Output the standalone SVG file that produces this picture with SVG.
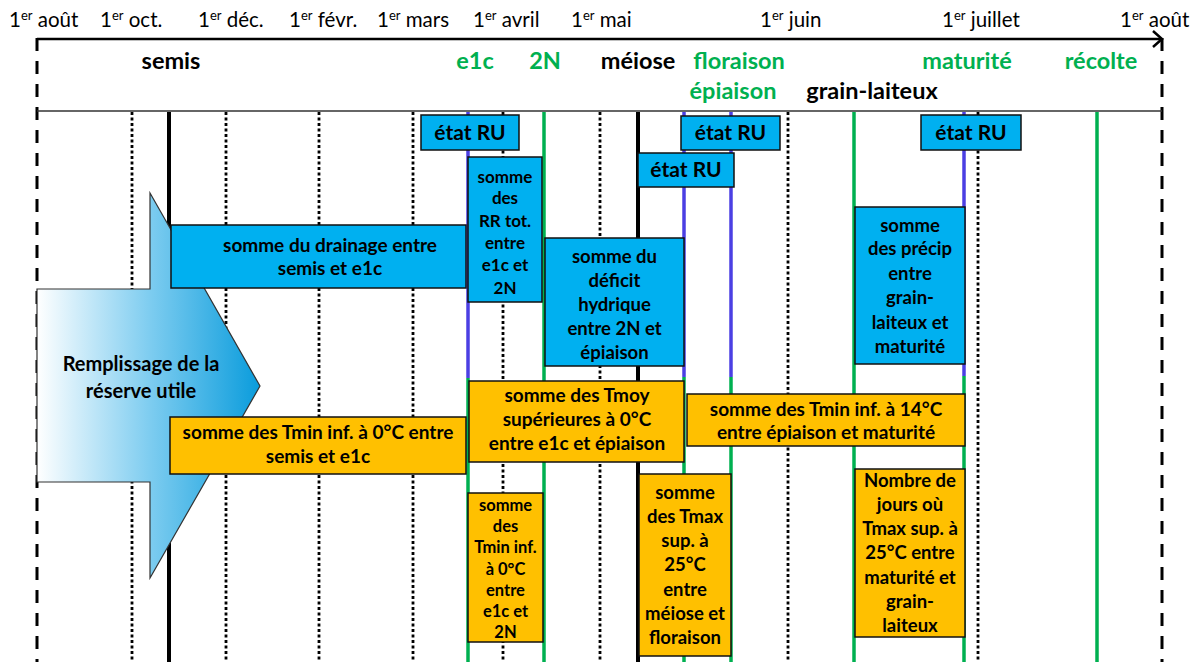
<svg xmlns="http://www.w3.org/2000/svg" width="1202" height="662" viewBox="0 0 1202 662">
<style>
text{font-family:Lato,"Liberation Sans",sans-serif;}
.m{font-size:20.5px;fill:#000;}
.sup{font-size:13px;}
.h{font-size:23.5px;font-weight:bold;text-anchor:middle;}
.g{fill:#00B050;}
.k{fill:#000;}
.t{font-weight:bold;text-anchor:middle;fill:#000;}
.dot{stroke:#000;stroke-width:2.8;stroke-dasharray:3 2.5;fill:none;}
.dash{stroke:#000;stroke-width:3;stroke-dasharray:13 10;fill:none;}
.solid{stroke:#000;stroke-width:4;fill:none;}
.gl{stroke:#00B050;stroke-width:3.5;fill:none;}
.bl{stroke:#4B3FE3;stroke-width:3.5;fill:none;}
.bbox{fill:#00B0F0;stroke:#111;stroke-width:1.5;}
.obox{fill:#FFC000;stroke:#111;stroke-width:1.5;}
</style>
<defs>
<linearGradient id="ag" x1="37" y1="0" x2="260" y2="0" gradientUnits="userSpaceOnUse">
<stop offset="0" stop-color="#FFFFFF"/>
<stop offset="0.5" stop-color="#7FCDF0"/>
<stop offset="1" stop-color="#0A9CDC"/>
</linearGradient>
</defs>
<rect width="1202" height="662" fill="#fff"/>

<g id="months">
<text class="m" x="9" y="27">1<tspan class="sup" dy="-7">er</tspan><tspan dy="7"> août</tspan></text>
<text class="m" x="100" y="27">1<tspan class="sup" dy="-7">er</tspan><tspan dy="7"> oct.</tspan></text>
<text class="m" x="198" y="27">1<tspan class="sup" dy="-7">er</tspan><tspan dy="7"> déc.</tspan></text>
<text class="m" x="289" y="27">1<tspan class="sup" dy="-7">er</tspan><tspan dy="7"> févr.</tspan></text>
<text class="m" x="377" y="27">1<tspan class="sup" dy="-7">er</tspan><tspan dy="7"> mars</tspan></text>
<text class="m" x="473" y="27">1<tspan class="sup" dy="-7">er</tspan><tspan dy="7"> avril</tspan></text>
<text class="m" x="571" y="27">1<tspan class="sup" dy="-7">er</tspan><tspan dy="7"> mai</tspan></text>
<text class="m" x="760" y="27">1<tspan class="sup" dy="-7">er</tspan><tspan dy="7"> juin</tspan></text>
<text class="m" x="942" y="27">1<tspan class="sup" dy="-7">er</tspan><tspan dy="7"> juillet</tspan></text>
<text class="m" x="1120" y="27">1<tspan class="sup" dy="-7">er</tspan><tspan dy="7"> août</tspan></text>
</g>

<g id="connectors">
<line class="dash" x1="37" y1="38" x2="37" y2="662"/>
<line class="dash" x1="1162" y1="38" x2="1162" y2="662"/>
<line x1="37" y1="111" x2="1162" y2="111" stroke="#333" stroke-width="1.5"/>
<line x1="37" y1="39" x2="1161" y2="39" stroke="#000" stroke-width="2.5"/>
<polyline points="1153,31 1162,39 1153,47" fill="none" stroke="#000" stroke-width="2.5"/>
<line class="dot" x1="132" y1="112" x2="132" y2="662"/>
<line class="dot" x1="226" y1="112" x2="226" y2="662"/>
<line class="dot" x1="319" y1="112" x2="319" y2="662"/>
<line class="dot" x1="413" y1="112" x2="413" y2="662"/>
<line class="dot" x1="503" y1="112" x2="503" y2="662"/>
<line class="dot" x1="600" y1="112" x2="600" y2="662"/>
<line class="dot" x1="788" y1="112" x2="788" y2="662"/>
<line class="dot" x1="978" y1="112" x2="978" y2="662"/>
<line class="solid" x1="169" y1="112" x2="169" y2="662"/>
<line class="solid" x1="638" y1="112" x2="638" y2="662"/>
<line class="bl" x1="468" y1="112" x2="468" y2="378"/>
<line class="gl" x1="468" y1="378" x2="468" y2="662"/>
<line class="gl" x1="544" y1="112" x2="544" y2="662"/>
<line class="bl" x1="684" y1="112" x2="684" y2="377"/>
<line class="gl" x1="684" y1="377" x2="684" y2="662"/>
<line class="bl" x1="731" y1="112" x2="731" y2="377"/>
<line class="gl" x1="731" y1="377" x2="731" y2="662"/>
<line class="gl" x1="854" y1="112" x2="854" y2="662"/>
<line class="bl" x1="964" y1="112" x2="964" y2="376"/>
<line class="gl" x1="964" y1="376" x2="964" y2="662"/>
<line class="gl" x1="1097" y1="112" x2="1097" y2="662"/>
</g>

<g id="stages">
<text class="h k" x="171" y="69">semis</text>
<text class="h g" x="475" y="69">e1c</text>
<text class="h g" x="545" y="69">2N</text>
<text class="h k" x="638" y="69">méiose</text>
<text class="h g" x="739" y="69">floraison</text>
<text class="h g" x="967" y="69">maturité</text>
<text class="h g" x="1101" y="69">récolte</text>
<text class="h g" x="733" y="99">épiaison</text>
<text class="h k" x="872" y="99">grain-laiteux</text>
</g>

<g id="remplissage">
<path d="M37,289 L150,289 L150,193 L260,386 L150,578 L150,482 L37,482 Z" fill="url(#ag)" stroke="#333" stroke-width="1.2"/>
<text class="t" x="141" y="371" font-size="20" fill="#1a1a1a">Remplissage de la</text>
<text class="t" x="141" y="398" font-size="20" fill="#1a1a1a">réserve utile</text>
</g>

<g id="etatRU1">
<rect class="bbox" x="421" y="115" width="98" height="35"/>
<text class="t" x="470" y="140" font-size="21">état RU</text>
</g>
<g id="etatRU2">
<rect class="bbox" x="681" y="116" width="99" height="34"/>
<text class="t" x="730.5" y="140" font-size="21">état RU</text>
</g>
<g id="etatRU3">
<rect class="bbox" x="638" y="153" width="96" height="34"/>
<text class="t" x="686" y="177" font-size="21">état RU</text>
</g>
<g id="etatRU4">
<rect class="bbox" x="921" y="115" width="100" height="35"/>
<text class="t" x="971" y="140" font-size="21">état RU</text>
</g>

<g id="rrtot">
<rect class="bbox" x="468" y="157" width="74" height="145" stroke-width="2"/>
<text class="t" font-size="17"><tspan x="505" y="183">somme</tspan><tspan x="505" y="204">des</tspan><tspan x="505" y="227">RR tot.</tspan><tspan x="505" y="249">entre</tspan><tspan x="505" y="271">e1c et</tspan><tspan x="505" y="294">2N</tspan></text>
</g>

<g id="deficit">
<rect class="bbox" x="545" y="238" width="139" height="128"/>
<text class="t" font-size="18.5"><tspan x="614.5" y="263">somme du</tspan><tspan x="614.5" y="287">déficit</tspan><tspan x="614.5" y="311">hydrique</tspan><tspan x="614.5" y="335">entre 2N et</tspan><tspan x="614.5" y="359">épiaison</tspan></text>
</g>

<g id="drainage">
<rect class="bbox" x="171" y="225" width="295" height="63"/>
<text class="t" font-size="19"><tspan x="330" y="252">somme du drainage entre</tspan><tspan x="330" y="275">semis et e1c</tspan></text>
</g>

<g id="precip">
<rect class="bbox" x="855" y="207" width="110" height="157"/>
<text class="t" font-size="18.5"><tspan x="910" y="232">somme</tspan><tspan x="910" y="255">des précip</tspan><tspan x="910" y="280">entre</tspan><tspan x="910" y="304">grain-</tspan><tspan x="910" y="329">laiteux et</tspan><tspan x="910" y="353">maturité</tspan></text>
</g>

<g id="tminsemis">
<rect class="obox" x="170" y="417" width="296" height="57"/>
<text class="t" font-size="19"><tspan x="318" y="439">somme des Tmin inf. à 0°C entre</tspan><tspan x="318" y="463">semis et e1c</tspan></text>
</g>

<g id="tmoy">
<rect class="obox" x="469" y="381" width="215" height="81"/>
<text class="t" font-size="19"><tspan x="577" y="402">somme des Tmoy</tspan><tspan x="577" y="426">supérieures à 0°C</tspan><tspan x="577" y="450">entre e1c et épiaison</tspan></text>
</g>

<g id="tmin14">
<rect class="obox" x="687" y="394" width="278" height="52"/>
<text class="t" font-size="19"><tspan x="826" y="416">somme des Tmin inf. à 14°C</tspan><tspan x="826" y="439">entre épiaison et maturité</tspan></text>
</g>

<g id="tmin2n">
<rect class="obox" x="468" y="493" width="75" height="149"/>
<text class="t" font-size="16.5"><tspan x="505.5" y="511">somme</tspan><tspan x="505.5" y="532">des</tspan><tspan x="505.5" y="553">Tmin inf.</tspan><tspan x="505.5" y="575">à 0°C</tspan><tspan x="505.5" y="596">entre</tspan><tspan x="505.5" y="617">e1c et</tspan><tspan x="505.5" y="638">2N</tspan></text>
</g>

<g id="tmax">
<rect class="obox" x="639" y="474" width="92" height="182"/>
<text class="t" font-size="18.5"><tspan x="685" y="499">somme</tspan><tspan x="685" y="523">des Tmax</tspan><tspan x="685" y="547">sup. à</tspan><tspan x="685" y="571">25°C</tspan><tspan x="685" y="596">entre</tspan><tspan x="685" y="620">méiose et</tspan><tspan x="685" y="644">floraison</tspan></text>
</g>

<g id="nombre">
<rect class="obox" x="855" y="469" width="110" height="168"/>
<text class="t" font-size="18.5"><tspan x="910" y="487">Nombre de</tspan><tspan x="910" y="511">jours où</tspan><tspan x="910" y="535">Tmax sup. à</tspan><tspan x="910" y="559">25°C entre</tspan><tspan x="910" y="584">maturité et</tspan><tspan x="910" y="608">grain-</tspan><tspan x="910" y="632">laiteux</tspan></text>
</g>
</svg>
